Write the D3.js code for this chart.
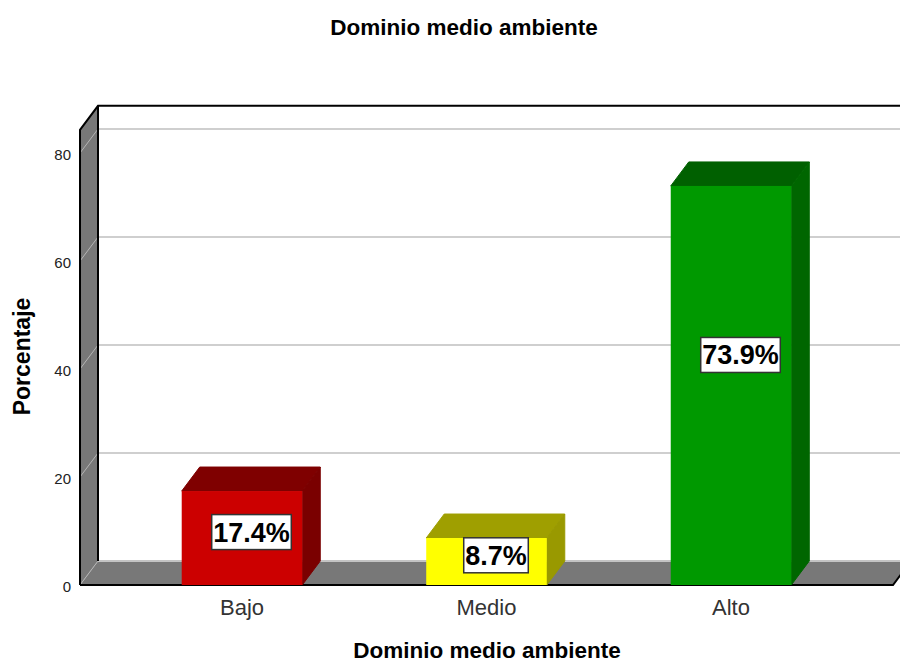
<!DOCTYPE html>
<html lang="en">
<head>
<meta charset="UTF-8">
<title>Dominio medio ambiente</title>
<script src="https://d3js.org/d3.v7.min.js"></script>
<style>
    body { margin: 0; background: #fff; }
    svg { display: block; font-family: "Liberation Sans", Arial, sans-serif; }
</style>
</head>
<body>
<svg id="chart" width="900" height="663"></svg>
<script>
const categories = ['Bajo', 'Medio', 'Alto'];
const percentages = [17.4, 8.7, 73.9];
const labels = ['17.4%', '8.7%', '73.9%'];
// height on the value axis where each label box sits
const labelLevels = [9.8, 5.5, 42.6];
const frontColors = ['#cc0000', '#ffff00', '#009900'];
const topColors = ['#7f0000', '#9f9f00', '#006000'];
const sideColors = ['#7a0000', '#999900', '#006600'];
const yTicks = [0, 20, 40, 60, 80];

const svg = d3.select('#chart');
const depthX = 18, depthY = -24; // 3d offset of the back wall
const plotLeft = 80, plotRight = 893, plotBottom = 585;
const wallColor = '#787878';

const x = d3.scaleBand().domain(categories).range([plotLeft, plotRight])
    .paddingInner(0.507).paddingOuter(0.416);
const y = d3.scaleLinear().domain([0, 80]).range([plotBottom, 153]);
const plotTop = y(84.3);

const poly = pts => pts.map(p => p.join(',')).join(' ');

// side wall and floor
svg.append('polygon')
    .attr('points', poly([[plotLeft, plotTop], [plotLeft + depthX, plotTop + depthY], [plotLeft + depthX, plotBottom + depthY], [plotLeft, plotBottom]]))
    .attr('fill', wallColor);
svg.append('polygon')
    .attr('points', poly([[plotLeft, plotBottom], [plotLeft + depthX, plotBottom + depthY], [plotRight + depthX, plotBottom + depthY], [plotRight, plotBottom]]))
    .attr('fill', wallColor);

// grid lines: back wall + slanted bit on the side wall
yTicks.forEach(t => {
    svg.append('line')
        .attr('x1', plotLeft + depthX).attr('x2', 900)
        .attr('y1', y(t) + depthY).attr('y2', y(t) + depthY)
        .attr('stroke', t > 0 ? '#cfcfcf' : '#c4c4c4').attr('stroke-width', 2);
    svg.append('line')
        .attr('x1', plotLeft).attr('x2', plotLeft + depthX)
        .attr('y1', y(t)).attr('y2', y(t) + depthY)
        .attr('stroke', '#b5b5b5').attr('stroke-width', 1);
});

// frame
svg.append('path')
    .attr('d', `M${plotLeft},${plotBottom}V${plotTop}L${plotLeft + depthX},${plotTop + depthY}H900`)
    .attr('fill', 'none').attr('stroke', '#000').attr('stroke-width', 2);
svg.append('line')
    .attr('x1', plotLeft + depthX).attr('x2', plotLeft + depthX)
    .attr('y1', plotTop + depthY).attr('y2', plotBottom + depthY)
    .attr('stroke', '#000').attr('stroke-width', 2);
svg.append('path')
    .attr('d', `M${plotLeft},${plotBottom}H${plotRight}L${plotRight + depthX},${plotBottom + depthY}`)
    .attr('fill', 'none').attr('stroke', '#000').attr('stroke-width', 2);

// bars
const bars = svg.selectAll('g.bar').data(categories).join('g').attr('class', 'bar');
bars.each(function(c, i) {
    const g = d3.select(this);
    const x0 = x(c), x1 = x(c) + x.bandwidth();
    const yTop = y(percentages[i]);
    g.append('polygon')
        .attr('points', poly([[x0, yTop], [x0 + depthX, yTop + depthY], [x1 + depthX, yTop + depthY], [x1, yTop]]))
        .attr('fill', topColors[i]).attr('stroke', topColors[i]);
    g.append('polygon')
        .attr('points', poly([[x1, yTop], [x1 + depthX, yTop + depthY], [x1 + depthX, plotBottom + depthY], [x1, plotBottom]]))
        .attr('fill', sideColors[i]).attr('stroke', sideColors[i]);
    g.append('rect')
        .attr('x', x0).attr('y', yTop)
        .attr('width', x.bandwidth()).attr('height', plotBottom - yTop)
        .attr('fill', frontColors[i]);
});

// value labels
categories.forEach((c, i) => {
    const cx = x(c) + x.bandwidth() / 2 + 9.5;
    const cy = y(labelLevels[i]);
    const text = svg.append('text')
        .attr('x', cx).attr('y', cy + 9.5)
        .attr('text-anchor', 'middle')
        .attr('font-size', 27).attr('font-weight', 'bold')
        .attr('fill', '#000')
        .text(labels[i]);
    const w = text.node().getComputedTextLength() + 3;
    svg.insert('rect', () => text.node())
        .attr('x', cx - w / 2).attr('y', cy - 17.5)
        .attr('width', w).attr('height', 35)
        .attr('fill', '#fff').attr('stroke', '#333').attr('stroke-width', 1.5);
});

// axes
const yAxis = svg.append('g')
    .attr('transform', `translate(${plotLeft - 2},2)`)
    .call(d3.axisLeft(y).tickValues(yTicks).tickSize(0).tickPadding(7));
yAxis.select('.domain').remove();
yAxis.selectAll('text').attr('font-size', 15).attr('font-family', null).attr('fill', '#222');

const xAxis = svg.append('g')
    .attr('transform', `translate(0,${plotBottom})`)
    .call(d3.axisBottom(x).tickSize(0).tickPadding(14));
xAxis.select('.domain').remove();
xAxis.selectAll('text').attr('font-size', 22).attr('font-family', null).attr('fill', '#333');

// titles
svg.append('text').attr('x', 464).attr('y', 35).attr('text-anchor', 'middle')
    .attr('font-size', 22.5).attr('font-weight', 'bold').text('Dominio medio ambiente');
svg.append('text').attr('x', 487).attr('y', 658).attr('text-anchor', 'middle')
    .attr('font-size', 22.5).attr('font-weight', 'bold').text('Dominio medio ambiente');
svg.append('text').attr('transform', 'translate(30,356.5) rotate(-90)').attr('text-anchor', 'middle')
    .attr('font-size', 23).attr('font-weight', 'bold').text('Porcentaje');
</script>
</body>
</html>
